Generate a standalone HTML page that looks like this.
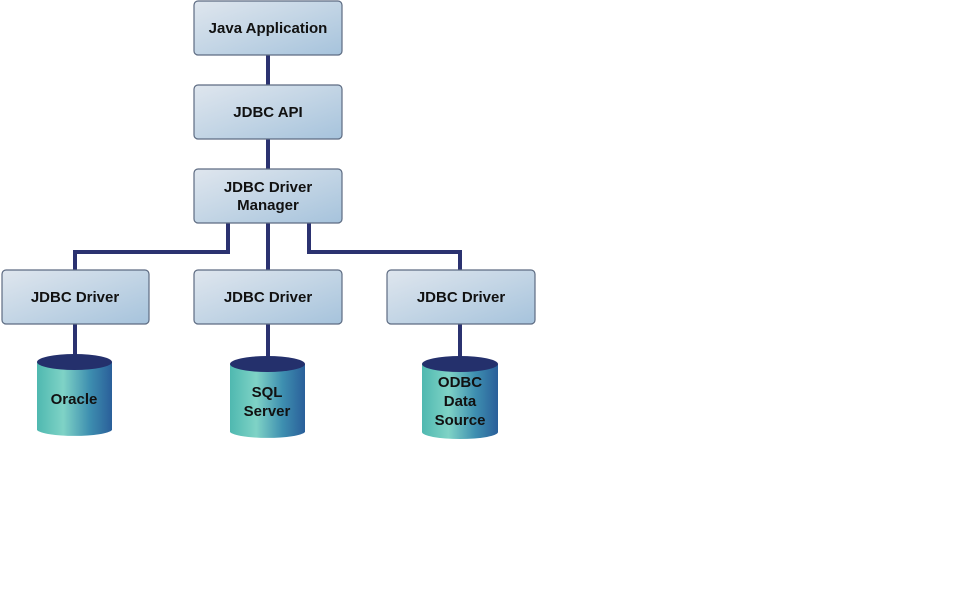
<!DOCTYPE html>
<html><head><style>
body{margin:0;background:#fff;width:962px;height:598px;overflow:hidden}
</style></head><body>
<svg width="962" height="598" xmlns="http://www.w3.org/2000/svg">
<defs>
<linearGradient id="bx" x1="0" y1="0" x2="1" y2="1">
<stop offset="0" stop-color="#dfe6ee"/><stop offset="0.5" stop-color="#c3d5e5"/><stop offset="1" stop-color="#a6c3dc"/>
</linearGradient>
<linearGradient id="cy" x1="0" y1="0" x2="1" y2="0">
<stop offset="0" stop-color="#4fb8b0"/><stop offset="0.35" stop-color="#7fd3c6"/><stop offset="0.7" stop-color="#3e8fb0"/><stop offset="1" stop-color="#2a5f9a"/>
</linearGradient>
</defs>
<g stroke="#2b3270" stroke-width="4" fill="none">
<line x1="268" y1="55" x2="268" y2="85"/>
<line x1="268" y1="139" x2="268" y2="169"/>
<line x1="268" y1="223" x2="268" y2="270"/>
<path d="M228 223 V252 H75 V270"/>
<path d="M309 223 V252 H460 V270"/>
<line x1="75" y1="324" x2="75" y2="358"/>
<line x1="268" y1="324" x2="268" y2="358"/>
<line x1="460" y1="324" x2="460" y2="358"/>
</g>
<g stroke="#5d6b82" stroke-width="1.2" fill="url(#bx)">
<rect x="194" y="1" width="148" height="54" rx="4"/>
<rect x="194" y="85" width="148" height="54" rx="4"/>
<rect x="194" y="169" width="148" height="54" rx="4"/>
<rect x="2" y="270" width="147" height="54" rx="4"/>
<rect x="194" y="270" width="148" height="54" rx="4"/>
<rect x="387" y="270" width="148" height="54" rx="4"/>
</g>
<g>
<path d="M37 362 V430 A38 7 0 0 0 112 430 V362 Z" fill="url(#cy)"/>
<ellipse cx="74.5" cy="362" rx="37.5" ry="8" fill="#24306c"/>
<path d="M230 364 V432 A38 7 0 0 0 305 432 V364 Z" fill="url(#cy)"/>
<ellipse cx="267.5" cy="364" rx="37.5" ry="8" fill="#24306c"/>
<path d="M422 364 V432 A38 7 0 0 0 498 432 V364 Z" fill="url(#cy)"/>
<ellipse cx="460" cy="364" rx="38" ry="8" fill="#24306c"/>
</g>
<g font-family="Liberation Sans, sans-serif" font-weight="bold" font-size="15" fill="#111" text-anchor="middle">
<text x="268" y="33">Java Application</text>
<text x="268" y="117">JDBC API</text>
<text x="268" y="192">JDBC Driver</text>
<text x="268" y="210">Manager</text>
<text x="75" y="302">JDBC Driver</text>
<text x="268" y="302">JDBC Driver</text>
<text x="461" y="302">JDBC Driver</text>
<text x="74" y="404">Oracle</text>
<text x="267" y="397">SQL</text>
<text x="267" y="416">Server</text>
<text x="460" y="387">ODBC</text>
<text x="460" y="406">Data</text>
<text x="460" y="425">Source</text>
</g>
</svg>
</body></html>
